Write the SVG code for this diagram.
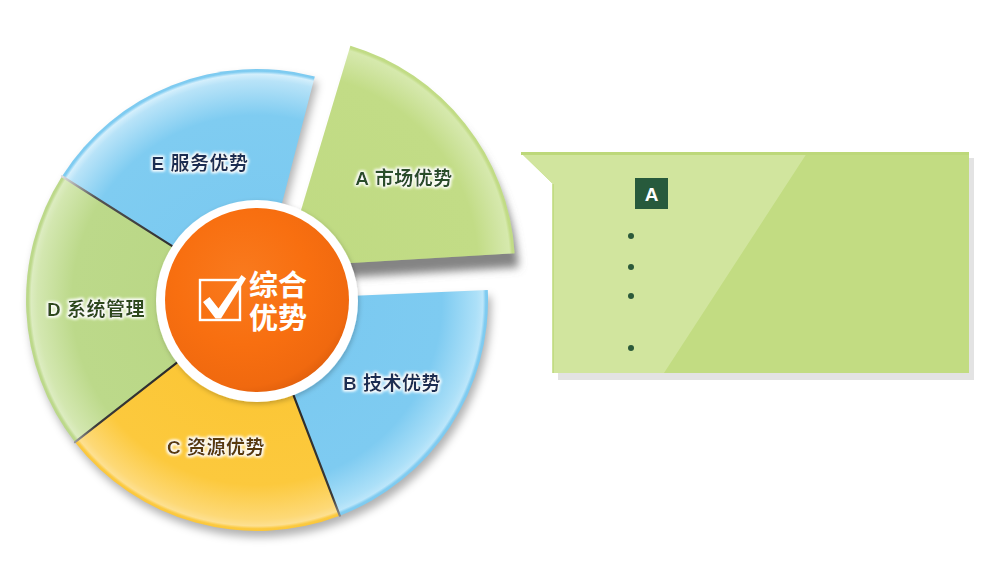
<svg xmlns="http://www.w3.org/2000/svg" width="1002" height="561" viewBox="0 0 1002 561">
<style>
.lbl{font-family:"Liberation Sans","Noto Sans CJK SC",sans-serif;font-weight:bold;font-size:19px;text-anchor:middle;letter-spacing:0.5px}
.ctr{font-family:"Liberation Sans","Noto Sans CJK SC",sans-serif;font-weight:bold;font-size:29px;fill:#fff}
.sep{stroke-width:2.2;fill:none;stroke-linecap:round}
.bullet{fill:#2b5a3a}
</style>
<defs>
<radialGradient id="gA" gradientUnits="userSpaceOnUse" cx="284" cy="267" r="231">
<stop offset="0" stop-color="#bfda82"/><stop offset="0.84" stop-color="#c2dc86"/><stop offset="0.95" stop-color="#d2e6a6"/><stop offset="0.978" stop-color="#d6e9ad"/><stop offset="0.99" stop-color="#c2dc86"/><stop offset="1" stop-color="#c0db84"/>
</radialGradient>
<radialGradient id="gB" gradientUnits="userSpaceOnUse" cx="257" cy="300" r="231">
<stop offset="0" stop-color="#78c8f0"/><stop offset="0.8" stop-color="#7ecbf1"/><stop offset="0.95" stop-color="#ace0f8"/><stop offset="0.978" stop-color="#bce6fa"/><stop offset="0.99" stop-color="#80ccf1"/><stop offset="1" stop-color="#7ccaf0"/>
</radialGradient>
<radialGradient id="gC" gradientUnits="userSpaceOnUse" cx="257" cy="300" r="231">
<stop offset="0" stop-color="#fbc42f"/><stop offset="0.8" stop-color="#fcc93d"/><stop offset="0.95" stop-color="#fdd977"/><stop offset="0.978" stop-color="#fde091"/><stop offset="0.99" stop-color="#fcca40"/><stop offset="1" stop-color="#fbc63a"/>
</radialGradient>
<radialGradient id="gD" gradientUnits="userSpaceOnUse" cx="257" cy="300" r="231">
<stop offset="0" stop-color="#b8d682"/><stop offset="0.8" stop-color="#bcd98a"/><stop offset="0.95" stop-color="#d3e7b0"/><stop offset="0.978" stop-color="#dcecc0"/><stop offset="0.99" stop-color="#bdd98b"/><stop offset="1" stop-color="#bad888"/>
</radialGradient>
<radialGradient id="gE" gradientUnits="userSpaceOnUse" cx="257" cy="300" r="231">
<stop offset="0" stop-color="#78c8f0"/><stop offset="0.8" stop-color="#7fccf1"/><stop offset="0.95" stop-color="#b8e3f8"/><stop offset="0.978" stop-color="#d4effc"/><stop offset="0.99" stop-color="#80ccf1"/><stop offset="1" stop-color="#7ccaf0"/>
</radialGradient>
<radialGradient id="gO" cx="0.42" cy="0.38" r="0.72">
<stop offset="0" stop-color="#f97a1e"/><stop offset="0.5" stop-color="#f86f10"/><stop offset="0.82" stop-color="#f0690f"/><stop offset="1" stop-color="#d2560a"/>
</radialGradient>
<linearGradient id="lDE" gradientUnits="userSpaceOnUse" x1="172.6" y1="246.4" x2="62" y2="176.2">
<stop offset="0" stop-color="#2e2e2e"/><stop offset="0.7" stop-color="#555"/><stop offset="1" stop-color="#ddd"/>
</linearGradient>
<linearGradient id="lCD" gradientUnits="userSpaceOnUse" x1="178.2" y1="361.6" x2="75" y2="442.2">
<stop offset="0" stop-color="#2a2a2a"/><stop offset="0.8" stop-color="#3a3a3a"/><stop offset="1" stop-color="#999"/>
</linearGradient>
<linearGradient id="lBC" gradientUnits="userSpaceOnUse" x1="292.8" y1="393.4" x2="339.8" y2="515.7">
<stop offset="0" stop-color="#2a2a2a"/><stop offset="0.85" stop-color="#3a3a3a"/><stop offset="1" stop-color="#888"/>
</linearGradient>
<filter id="shA" x="-20%" y="-20%" width="150%" height="150%">
<feGaussianBlur in="SourceAlpha" stdDeviation="4"/>
<feOffset dx="4" dy="14" result="o"/>
<feFlood flood-color="#6e6e6e" flood-opacity="0.85"/>
<feComposite in2="o" operator="in" result="s"/>
<feMerge><feMergeNode in="s"/><feMergeNode in="SourceGraphic"/></feMerge>
</filter>
<filter id="shPie" x="-10%" y="-10%" width="130%" height="130%">
<feGaussianBlur stdDeviation="4"/>
</filter>
<filter id="shRing" x="-20%" y="-20%" width="150%" height="150%">
<feGaussianBlur in="SourceAlpha" stdDeviation="2.5"/>
<feOffset dx="1" dy="2" result="o"/>
<feFlood flood-color="#000" flood-opacity="0.22"/>
<feComposite in2="o" operator="in" result="s"/>
<feMerge><feMergeNode in="s"/><feMergeNode in="SourceGraphic"/></feMerge>
</filter>
<filter id="glow" x="-20%" y="-60%" width="140%" height="220%">
<feMorphology in="SourceAlpha" operator="dilate" radius="1.2" result="d"/>
<feGaussianBlur in="d" stdDeviation="1.8" result="b"/>
<feFlood flood-color="#ffffff" flood-opacity="0.9"/>
<feComposite in2="b" operator="in" result="g"/>
<feMerge><feMergeNode in="g"/><feMergeNode in="g"/><feMergeNode in="SourceGraphic"/></feMerge>
</filter>
</defs>

<rect width="1002" height="561" fill="#ffffff"/>

<!-- pie shadow -->
<path d="M257,300 L487.8,289.9 A231,231 0 1 1 314.8,76.4 Z" fill="#000" fill-opacity="0.3" transform="translate(3,6)" filter="url(#shPie)"/>

<g id="slice-a">
<path d="M284,267 L350.4,45.7 A231,231 0 0 1 514.6,253.3 Z" fill="url(#gA)" filter="url(#shA)"/>
<text class="lbl" x="404" y="185" fill="#2a4d2a" filter="url(#glow)">A 市场优势</text>
</g>
<g id="slice-b">
<path d="M257,300 L487.8,289.9 A231,231 0 0 1 339.8,515.7 Z" fill="url(#gB)"/>
<text class="lbl" x="392" y="390" fill="#1b2d52" filter="url(#glow)">B 技术优势</text>
</g>
<g id="slice-c">
<path d="M257,300 L339.8,515.7 A231,231 0 0 1 75,442.2 Z" fill="url(#gC)"/>
<text class="lbl" x="216" y="454" fill="#5a3a0e" filter="url(#glow)">C 资源优势</text>
</g>
<g id="slice-d">
<path d="M257,300 L75,442.2 A231,231 0 0 1 62,176.2 Z" fill="url(#gD)"/>
<text class="lbl" x="96" y="316" fill="#2d4a1f" filter="url(#glow)">D 系统管理</text>
</g>
<g id="slice-e">
<path d="M257,300 L62,176.2 A231,231 0 0 1 314.8,76.4 Z" fill="url(#gE)"/>
<text class="lbl" x="200" y="170" fill="#1b2d52" filter="url(#glow)">E 服务优势</text>
</g>

<g id="connectors">
<line class="sep" x1="172.6" y1="246.4" x2="62" y2="176.2" stroke="url(#lDE)"/>
<line class="sep" x1="178.2" y1="361.6" x2="75" y2="442.2" stroke="url(#lCD)"/>
<line class="sep" x1="292.8" y1="393.4" x2="339.8" y2="515.7" stroke="url(#lBC)"/>
</g>

<g id="center">
<circle cx="257" cy="301" r="101" fill="#ffffff" filter="url(#shRing)"/>
<circle cx="257" cy="300" r="92" fill="url(#gO)"/>
<rect x="200" y="280" width="40" height="40" fill="none" stroke="#ffffff" stroke-width="2.4"/>
<path d="M203,302 L209.5,297 L218.5,308.5 L241.5,275 L246,278.5 L221,318.5 L215.5,318.5 Z" fill="#ffffff"/>
<text class="ctr"><tspan x="249" y="296">综合</tspan><tspan x="249" y="329">优势</tspan></text>
</g>

<g id="callout">
<rect x="558" y="158" width="416" height="222" fill="#e3e3e3"/>
<path d="M521,153 L969,153 L969,373 L553,373 L553,184 Z" fill="#c2dc82"/>
<path d="M521,153 L807,153 L664,373 L553,373 L553,184 Z" fill="#d1e59e"/>
<rect x="521" y="152" width="448" height="3" fill="#bdd87a"/>
<line x1="553" y1="184" x2="553" y2="373" stroke="#bcd879" stroke-width="1.5"/>
<rect x="635" y="178" width="33" height="31" fill="#275a3c"/>
<text x="651.5" y="201" font-family="Liberation Sans, sans-serif" font-weight="bold" font-size="19" fill="#ffffff" text-anchor="middle">A</text>
<circle class="bullet" cx="631" cy="236" r="3"/>
<circle class="bullet" cx="631" cy="267" r="3"/>
<circle class="bullet" cx="631" cy="296" r="3"/>
<circle class="bullet" cx="631" cy="348" r="3"/>
</g>
</svg>
